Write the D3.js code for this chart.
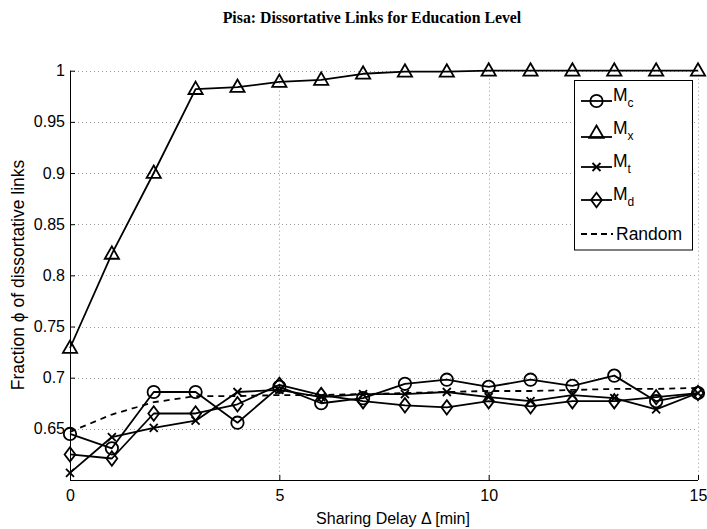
<!DOCTYPE html>
<html>
<head>
<meta charset="utf-8">
<script src="https://cdn.jsdelivr.net/npm/d3@7"></script>
<style>
  body { margin: 0; background: #fff; }
  svg { display: block; }
</style>
</head>
<body>
<svg id="chart" width="707" height="529"></svg>
<script>
// Sharing delay in minutes
const delays = [0,1,2,3,4,5,6,7,8,9,10,11,12,13,14,15];

// Fraction of dissortative links per model
const mc = [0.645,0.631,0.686,0.686,0.656,0.691,0.675,0.680,0.694,0.698,0.691,0.698,0.692,0.702,0.677,0.685];
const mx = [0.729,0.821,0.900,0.982,0.984,0.989,0.991,0.997,0.999,0.999,1.000,1.000,1.000,1.000,1.000,1.000];
const mt = [0.607,0.642,0.651,0.658,0.686,0.688,0.681,0.684,0.684,0.686,0.681,0.677,0.683,0.680,0.669,0.685];
const md = [0.625,0.621,0.665,0.665,0.674,0.693,0.683,0.677,0.673,0.671,0.677,0.672,0.677,0.677,0.681,0.685];
const random = [0.647,0.664,0.676,0.682,0.682,0.683,0.683,0.684,0.685,0.686,0.687,0.687,0.688,0.689,0.689,0.690];

const xTicks = [0,5,10,15];
const yTicks = [0.65,0.7,0.75,0.8,0.85,0.9,0.95,1];

const svg = d3.select("#chart");
const plotLeft = 70, plotRight = 698, plotTop = 70.7, plotBottom = 480;

const x = d3.scaleLinear().domain([0,15]).range([plotLeft, plotRight]);
const y = d3.scaleLinear().domain([0.6,1]).range([plotBottom, plotTop]);

const font = "'Liberation Sans', Arial, Helvetica, sans-serif";
const lw = 1.8;

// Title
svg.append("text")
  .attr("x", 372).attr("y", 23)
  .attr("text-anchor", "middle")
  .attr("font-family", "'Liberation Serif', 'Times New Roman', serif")
  .attr("font-weight", "bold")
  .attr("font-size", 15.8)
  .text("Pisa: Dissortative Links for Education Level");

// Dotted grid
const grid = svg.append("g").attr("stroke", "#999").attr("stroke-width", 1).attr("stroke-dasharray", "1,3");
grid.selectAll("line.gy").data(yTicks).join("line")
  .attr("x1", plotLeft).attr("x2", plotRight)
  .attr("y1", d => Math.round(y(d)) + 0.5).attr("y2", d => Math.round(y(d)) + 0.5);
grid.selectAll("line.gx").data(xTicks.slice(1)).join("line")
  .attr("y1", plotTop).attr("y2", plotBottom)
  .attr("x1", d => Math.round(x(d)) + 0.5).attr("x2", d => Math.round(x(d)) + 0.5);

// Axes with inward ticks
const xAxis = d3.axisBottom(x).tickValues(xTicks).tickSizeInner(-5).tickSizeOuter(0).tickPadding(10)
  .tickFormat(d3.format("d"));
const gx = svg.append("g").attr("transform", `translate(0,${plotBottom})`).call(xAxis);
const yAxis = d3.axisLeft(y).tickValues(yTicks).tickSizeInner(-5).tickSizeOuter(0).tickPadding(5)
  .tickFormat(d => d === 1 ? "1" : d3.format(".2~f")(d));
const gy = svg.append("g").attr("transform", `translate(${plotLeft},0)`).call(yAxis);
[gx, gy].forEach(g => {
  g.selectAll("path.domain").attr("stroke", "#000").attr("stroke-width", 1);
  g.selectAll(".tick line").attr("stroke", "#000");
  g.selectAll("text").attr("font-family", font).attr("font-size", 16).attr("fill", "#000");
});
gy.select("path.domain").attr("d", `M0.5,${plotBottom}V${plotTop}`);
gx.select("path.domain").attr("d", `M${plotLeft},0.5H${plotRight}`);

// Axis labels
svg.append("text")
  .attr("x", 393).attr("y", 524)
  .attr("text-anchor", "middle")
  .attr("font-family", font).attr("font-size", 16)
  .text("Sharing Delay \u0394 [min]");
svg.append("text")
  .attr("transform", "translate(24,275) rotate(-90)")
  .attr("text-anchor", "middle")
  .attr("font-family", font).attr("font-size", 17.5)
  .text("Fraction \u03d5 of dissortative links");

// Marker shapes
function drawMarker(g, type, cx, cy) {
  if (type === "circle") {
    g.append("circle").attr("cx", cx).attr("cy", cy).attr("r", 6.2)
      .attr("fill", "none").attr("stroke", "#000").attr("stroke-width", lw);
  } else if (type === "triangle") {
    const s = 7.5;
    g.append("path")
      .attr("d", `M${cx},${cy - s}L${cx + s * 0.95},${cy + s * 0.65}L${cx - s * 0.95},${cy + s * 0.65}Z`)
      .attr("fill", "none").attr("stroke", "#000").attr("stroke-width", lw);
  } else if (type === "cross") {
    const s = 4;
    g.append("path")
      .attr("d", `M${cx - s},${cy - s}L${cx + s},${cy + s}M${cx - s},${cy + s}L${cx + s},${cy - s}`)
      .attr("fill", "none").attr("stroke", "#000").attr("stroke-width", lw);
  } else if (type === "diamond") {
    const s = 7.2;
    g.append("path")
      .attr("d", `M${cx},${cy - s}L${cx + s * 0.75},${cy}L${cx},${cy + s}L${cx - s * 0.75},${cy}Z`)
      .attr("fill", "none").attr("stroke", "#000").attr("stroke-width", lw);
  }
}

const series = [
  { name: "c", values: mc, marker: "circle" },
  { name: "x", values: mx, marker: "triangle" },
  { name: "t", values: mt, marker: "cross" },
  { name: "d", values: md, marker: "diamond" }
];

const line = d3.line().x((d, i) => x(delays[i])).y(d => y(d));

// Random baseline (dashed)
svg.append("path")
  .attr("d", line(random))
  .attr("fill", "none").attr("stroke", "#000").attr("stroke-width", lw)
  .attr("stroke-dasharray", "6,5");

series.forEach(s => {
  const g = svg.append("g");
  g.append("path")
    .attr("d", line(s.values))
    .attr("fill", "none").attr("stroke", "#000").attr("stroke-width", lw)
    .attr("stroke-linejoin", "round");
  s.values.forEach((v, i) => drawMarker(g, s.marker, x(delays[i]), y(v)));
});

// Legend
const lg = svg.append("g");
lg.append("rect")
  .attr("x", 574.5).attr("y", 80.5).attr("width", 118).attr("height", 169.5)
  .attr("fill", "#fff").attr("stroke", "#000").attr("stroke-width", 1);
const legendRows = [
  { main: "M", sub: "c", marker: "circle", dy: 0 },
  { main: "M", sub: "x", marker: "triangle", dy: 3 },
  { main: "M", sub: "t", marker: "cross", dy: 0 },
  { main: "M", sub: "d", marker: "diamond", dy: 0 }
];
legendRows.forEach((r, i) => {
  const ly = 101 + i * 33;
  const lyy = ly + r.dy;
  lg.append("line").attr("x1", 581).attr("x2", 612).attr("y1", lyy).attr("y2", lyy)
    .attr("stroke", "#000").attr("stroke-width", lw);
  drawMarker(lg, r.marker, 596.5, r.marker === "triangle" ? lyy - 4 : lyy);
  const t = lg.append("text").attr("x", 613).attr("y", ly)
    .attr("font-family", font).attr("font-size", 17.5);
  t.append("tspan").text(r.main);
  t.append("tspan").attr("font-size", 12).attr("dy", 6).text(r.sub);
});
lg.append("line").attr("x1", 581).attr("x2", 613).attr("y1", 234).attr("y2", 234)
  .attr("stroke", "#000").attr("stroke-width", lw).attr("stroke-dasharray", "6,4");
lg.append("text").attr("x", 616).attr("y", 240)
  .attr("font-family", font).attr("font-size", 17.5).text("Random");
</script>
</body>
</html>
